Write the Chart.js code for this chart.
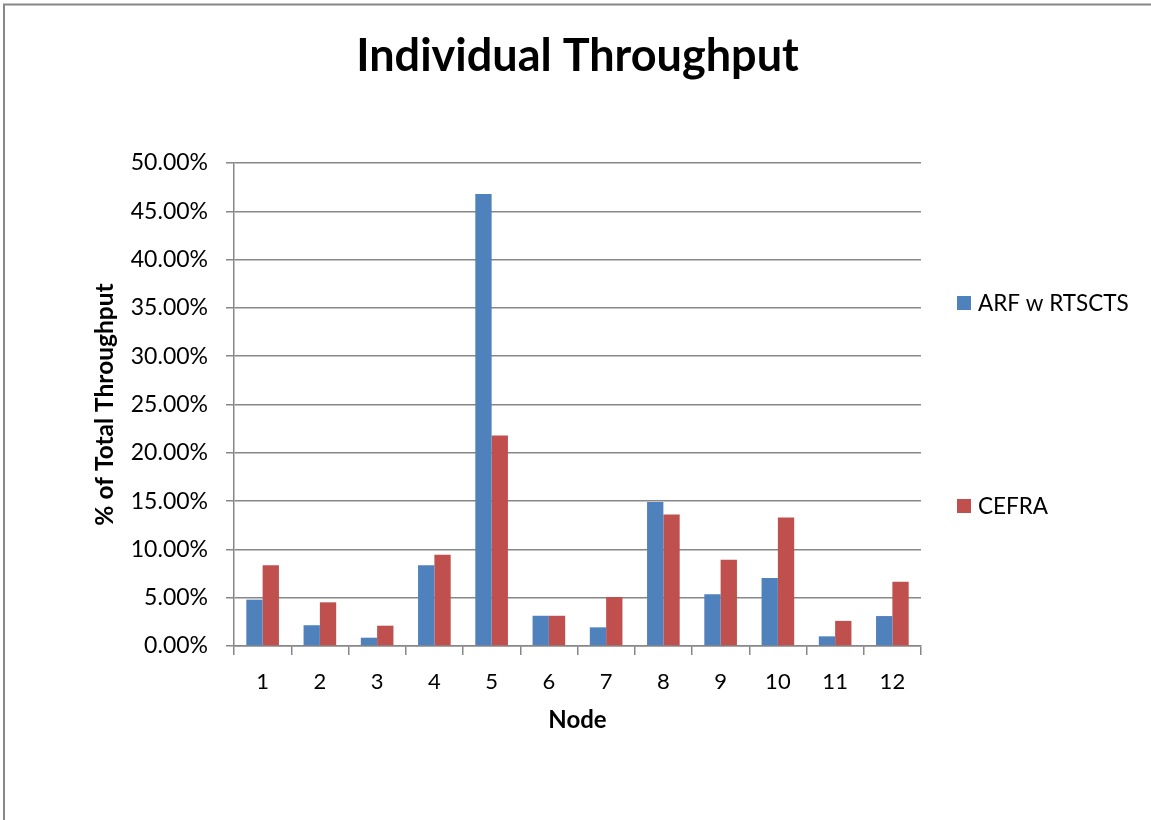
<!DOCTYPE html>
<html>
<head>
<meta charset="utf-8">
<title>Individual Throughput</title>
<script src="https://cdn.jsdelivr.net/npm/chart.js@4.4.1/dist/chart.umd.min.js"></script>
<style>
  html, body { margin: 0; padding: 0; background: #ffffff; }
  #wrap { width: 1151px; height: 820px; position: relative; }
</style>
</head>
<body>
<div id="wrap"><canvas id="chart" width="1151" height="820"></canvas></div>
<script>
// Node identifiers along the x axis
const nodes = ['1', '2', '3', '4', '5', '6', '7', '8', '9', '10', '11', '12'];

// Share of total throughput per node (%)
const arfRtscts = [4.8, 2.15, 0.86, 8.37, 46.8, 3.13, 1.93, 14.9, 5.37, 7.05, 1.0, 3.1];
const cefra = [8.35, 4.52, 2.1, 9.44, 21.8, 3.13, 5.07, 13.6, 8.92, 13.3, 2.6, 6.65];

const seriesNames = ['ARF w RTSCTS', 'CEFRA'];
const seriesColors = ['#4F81BD', '#C0504D'];

const yTicks = [0, 5, 10, 15, 20, 25, 30, 35, 40, 45, 50];

const FONT = 'Lato, "Open Sans", sans-serif';
const GRID = '#878787';

// Outer frame of the chart sheet
const framePlugin = {
  id: 'frame',
  beforeDraw(chart) {
    const ctx = chart.ctx;
    ctx.save();
    ctx.fillStyle = '#ffffff';
    ctx.fillRect(0, 0, chart.width, chart.height);
    ctx.strokeStyle = GRID;
    ctx.lineWidth = 2;
    ctx.beginPath();
    ctx.moveTo(4, chart.height);
    ctx.lineTo(4, 4.5);
    ctx.lineTo(chart.width, 4.5);
    ctx.stroke();
    ctx.restore();
  }
};

// Legend entries placed to the right of the plot
const sideLegend = {
  id: 'sideLegend',
  afterDraw(chart) {
    const ctx = chart.ctx;
    const area = chart.chartArea;
    const rows = [area.top + 140, area.top + 343];
    ctx.save();
    ctx.font = '22.5px ' + FONT;
    ctx.textBaseline = 'middle';
    ctx.textAlign = 'left';
    chart.data.datasets.forEach((ds, i) => {
      const y = rows[i];
      const x = area.right + 36;
      ctx.fillStyle = ds.backgroundColor;
      ctx.fillRect(x, y - 7, 14, 14);
      ctx.fillStyle = '#000000';
      ctx.fillText(ds.label, x + 21, y + 1);
    });
    ctx.restore();
  }
};

new Chart(document.getElementById('chart'), {
  type: 'bar',
  data: {
    labels: nodes,
    datasets: [
      { label: seriesNames[0], data: arfRtscts, backgroundColor: seriesColors[0] },
      { label: seriesNames[1], data: cefra, backgroundColor: seriesColors[1] }
    ]
  },
  options: {
    responsive: false,
    animation: false,
    devicePixelRatio: 1,
    layout: { padding: { left: 86, right: 230, top: 10, bottom: 81 } },
    datasets: {
      bar: { categoryPercentage: 0.57, barPercentage: 1.0, borderWidth: 0 }
    },
    plugins: {
      legend: { display: false },
      tooltip: { enabled: false },
      title: {
        display: true,
        fullSize: false,
        text: 'Individual Throughput',
        color: '#000000',
        font: { family: FONT, size: 45, weight: 'bold', lineHeight: 1.2 },
        padding: { top: 19, bottom: 80 }
      }
    },
    scales: {
      x: {
        grid: {
          display: true,
          drawOnChartArea: false,
          drawTicks: true,
          tickLength: 9,
          color: GRID,
          lineWidth: 1.5
        },
        border: { display: true, color: GRID, width: 1.5 },
        ticks: {
          color: '#000000',
          font: { family: FONT, size: 22 },
          padding: 14,
          maxRotation: 0
        },
        title: {
          display: true,
          text: 'Node',
          color: '#000000',
          font: { family: FONT, size: 24, weight: 'bold', lineHeight: 1.2 },
          padding: { top: 4, bottom: 4 }
        },
        afterFit(scale) { scale.height = 93; }
      },
      y: {
        min: 0,
        max: 50,
        afterBuildTicks(scale) { scale.ticks = yTicks.map(v => ({ value: v })); },
        grid: {
          color: GRID,
          lineWidth: 1.5,
          drawTicks: true,
          tickLength: 8
        },
        border: { display: true, color: GRID, width: 1.5 },
        ticks: {
          color: '#000000',
          font: { family: FONT, size: 23 },
          padding: 18,
          callback: v => v.toFixed(2) + '%'
        },
        title: {
          display: true,
          text: '% of Total Throughput',
          color: '#000000',
          font: { family: FONT, size: 24.5, weight: 'bold', lineHeight: 1.2 },
          padding: { top: 4, bottom: 4 }
        },
        afterFit(scale) { scale.width = 148; }
      }
    }
  },
  plugins: [framePlugin, sideLegend]
});
</script>
</body>
</html>
